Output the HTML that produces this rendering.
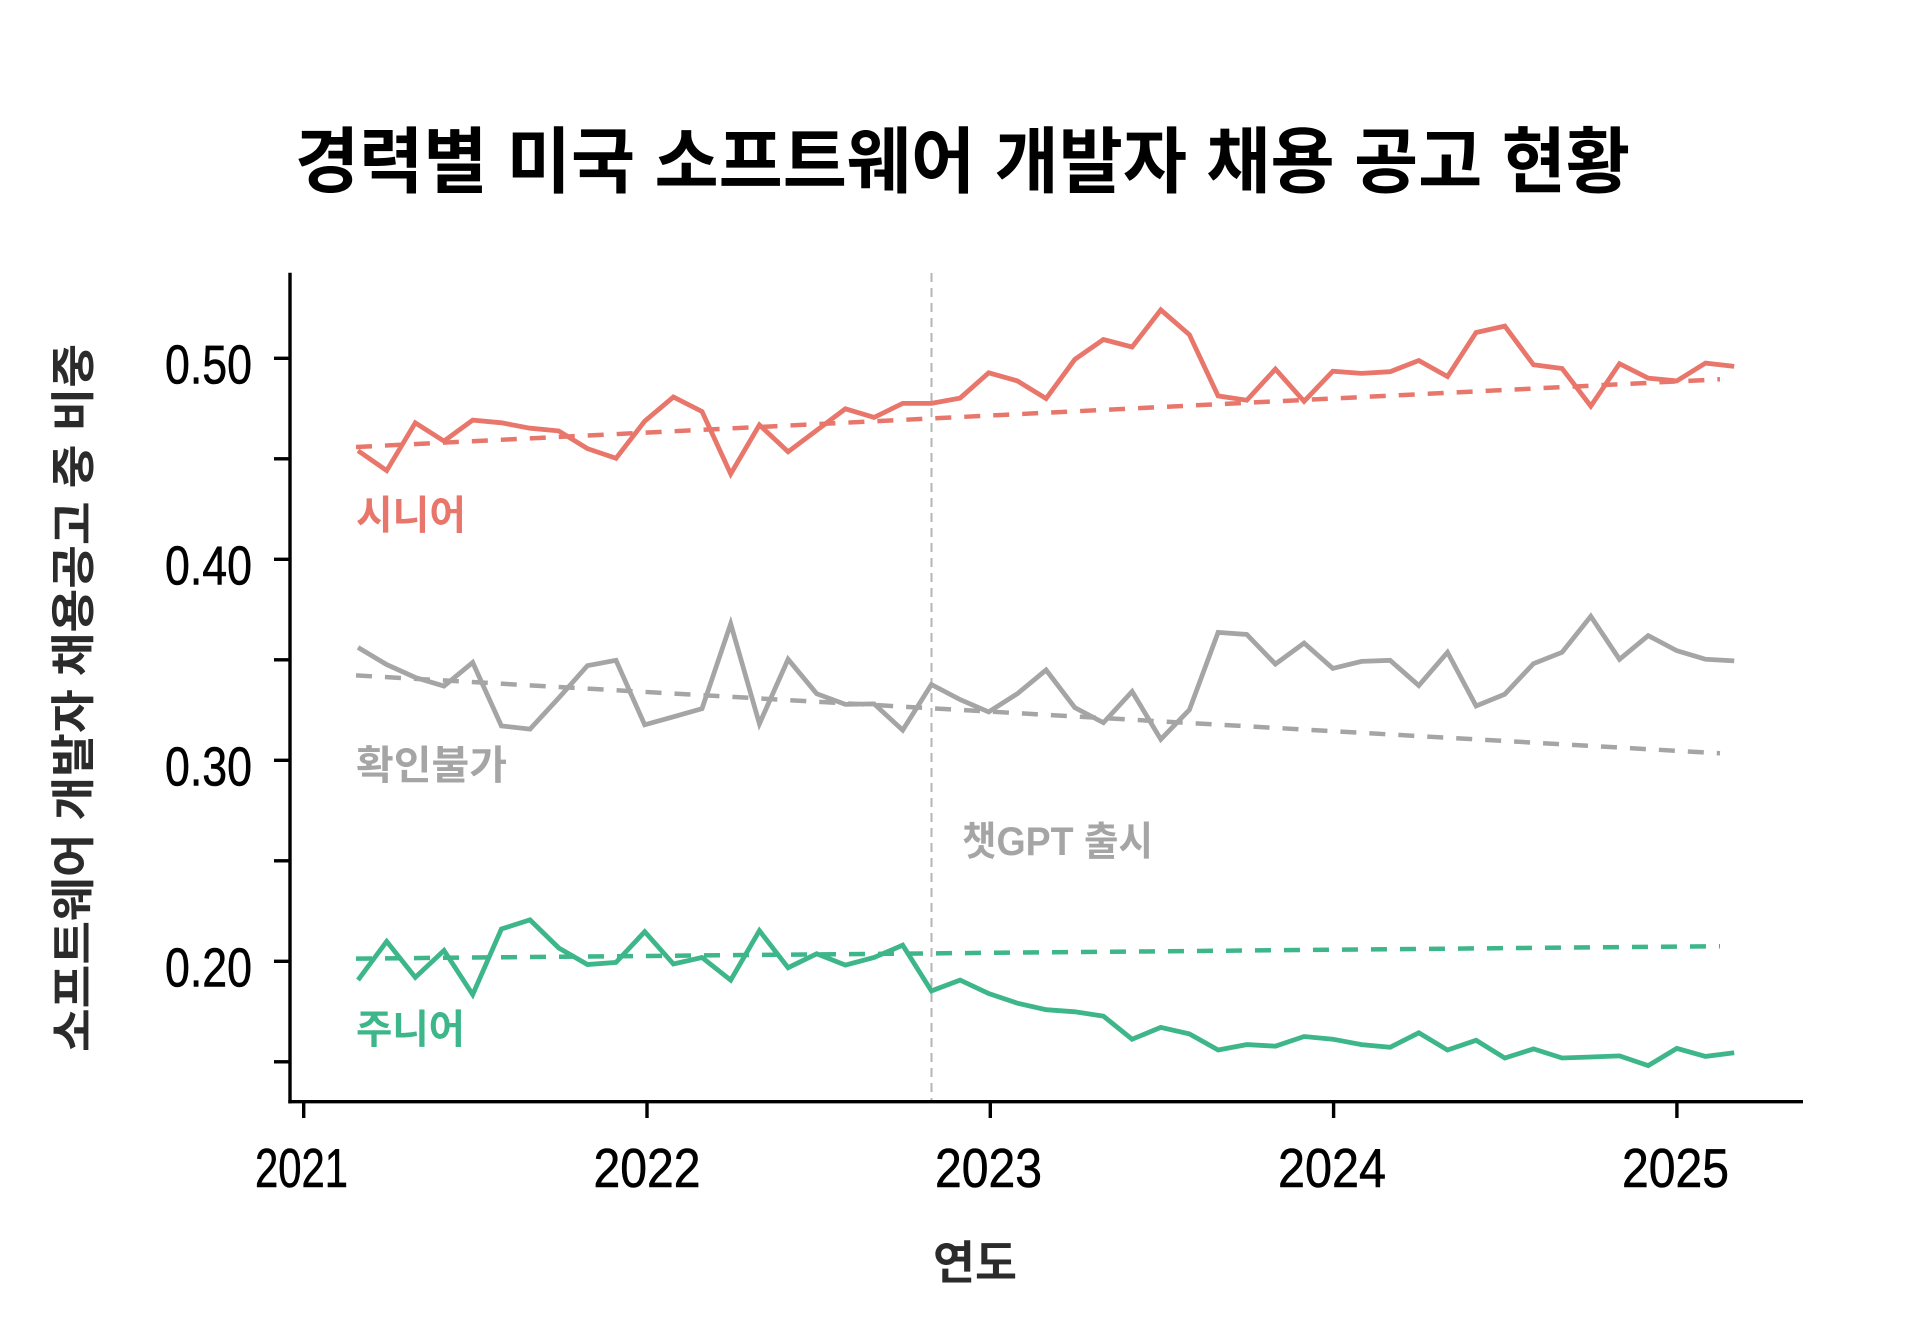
<!DOCTYPE html>
<html>
<head>
<meta charset="utf-8">
<style>
  html, body { margin:0; padding:0; background:#ffffff; }
  body { width:1920px; height:1329px; overflow:hidden; }
  svg { display:block; }
  .kr { font-family: "Liberation Sans", "Noto Sans CJK KR", sans-serif; }
  .num { font-family: "Liberation Sans", sans-serif; }
</style>
</head>
<body>
<svg width="1920" height="1329" viewBox="0 0 1920 1329" xmlns="http://www.w3.org/2000/svg">
  <rect x="0" y="0" width="1920" height="1329" fill="#ffffff"/>

  <!-- Title -->
  <text class="kr" x="295" y="187" font-size="72" font-weight="700" fill="#000000" textLength="1335" lengthAdjust="spacingAndGlyphs">경력별 미국 소프트웨어 개발자 채용 공고 현황</text>

  <!-- ChatGPT vertical line -->
  <line x1="931.5" y1="273" x2="931.5" y2="1100" stroke="#b5b5b5" stroke-width="2" stroke-dasharray="9 6"/>

  <!-- Trend lines -->
  <line x1="356" y1="447.0" x2="1720" y2="379.3" stroke="#E9766B" stroke-width="4.5" stroke-dasharray="16 13"/>
  <line x1="356" y1="675.4" x2="1720" y2="753.3" stroke="#A5A5A5" stroke-width="4.5" stroke-dasharray="16 13"/>
  <line x1="356" y1="958.6" x2="1720" y2="946.2" stroke="#3DB68A" stroke-width="4.5" stroke-dasharray="16 13"/>

  <!-- Series -->
  <polyline fill="none" stroke="#E9766B" stroke-width="4.8" stroke-linejoin="miter" points="358.0,450.7 386.7,470.6 415.3,422.8 444.0,441.1 472.7,420.1 501.4,422.8 530.0,428.2 558.7,430.9 587.4,448.6 616.0,458.3 644.7,421.2 673.4,397.0 702.0,411.5 730.7,473.9 759.4,424.9 788.1,451.8 816.7,430.3 845.4,408.8 874.1,417.4 902.7,403.4 931.4,403.4 960.1,398.1 988.7,372.8 1017.4,380.9 1046.1,398.6 1074.8,359.4 1103.4,339.5 1132.1,347.0 1160.8,309.9 1189.4,334.7 1218.1,395.9 1246.8,400.2 1275.4,369.1 1304.1,401.3 1332.8,371.2 1361.5,373.4 1390.1,371.7 1418.8,360.5 1447.5,376.6 1476.1,332.5 1504.8,326.1 1533.5,364.8 1562.1,368.5 1590.8,406.1 1619.5,363.7 1648.2,378.2 1676.8,380.9 1705.5,363.1 1734.2,366.4"/>
  <polyline fill="none" stroke="#A5A5A5" stroke-width="4.8" points="358.0,647.4 386.7,664.6 415.3,677.5 444.0,686.1 472.7,662.5 501.4,725.9 530.0,729.1 558.7,698.0 587.4,665.7 616.0,660.3 644.7,724.8 673.4,716.8 702.0,708.7 730.7,623.8 759.4,723.8 788.1,659.3 816.7,693.7 845.4,704.4 874.1,703.9 902.7,730.2 931.4,684.5 960.1,699.6 988.7,711.9 1017.4,693.7 1046.1,670.0 1074.8,707.6 1103.4,722.7 1132.1,691.5 1160.8,739.3 1189.4,709.8 1218.1,632.4 1246.8,634.5 1275.4,664.1 1304.1,643.1 1332.8,668.4 1361.5,661.4 1390.1,660.3 1418.8,685.6 1447.5,652.3 1476.1,706.0 1504.8,694.2 1533.5,663.6 1562.1,652.3 1590.8,616.3 1619.5,659.3 1648.2,635.6 1676.8,650.7 1705.5,659.3 1734.2,660.9"/>
  <polyline fill="none" stroke="#3DB68A" stroke-width="4.8" points="358.0,980.1 386.7,941.4 415.3,977.4 444.0,950.5 472.7,994.6 501.4,929.0 530.0,919.9 558.7,947.9 587.4,964.5 616.0,962.4 644.7,931.7 673.4,964.0 702.0,957.5 730.7,980.1 759.4,930.7 788.1,967.7 816.7,953.8 845.4,965.1 874.1,957.5 902.7,945.2 931.4,990.9 960.1,980.1 988.7,993.5 1017.4,1003.2 1046.1,1009.7 1074.8,1011.8 1103.4,1016.1 1132.1,1039.2 1160.8,1027.4 1189.4,1033.9 1218.1,1050.0 1246.8,1044.6 1275.4,1046.2 1304.1,1036.5 1332.8,1039.2 1361.5,1044.6 1390.1,1047.3 1418.8,1032.8 1447.5,1050.0 1476.1,1040.3 1504.8,1058.0 1533.5,1048.9 1562.1,1058.0 1590.8,1057.0 1619.5,1055.9 1648.2,1065.6 1676.8,1048.4 1705.5,1056.4 1734.2,1052.7"/>

  <!-- Series labels -->
  <text class="kr" x="356" y="529" font-size="40" font-weight="700" fill="#E9766B" textLength="110" lengthAdjust="spacingAndGlyphs">시니어</text>
  <text class="kr" x="356" y="779" font-size="40" font-weight="700" fill="#A5A5A5" textLength="151" lengthAdjust="spacingAndGlyphs">확인불가</text>
  <text class="kr" x="356" y="1043" font-size="40" font-weight="700" fill="#3DB68A" textLength="109" lengthAdjust="spacingAndGlyphs">주니어</text>
  <text class="kr" x="962" y="855" font-size="40" font-weight="700" fill="#A5A5A5" textLength="191" lengthAdjust="spacingAndGlyphs">챗GPT 출시</text>

  <!-- Axes spines -->
  <line x1="290" y1="272.7" x2="290" y2="1103.4" stroke="#000" stroke-width="3.4"/>
  <line x1="288.3" y1="1101.7" x2="1803" y2="1101.7" stroke="#000" stroke-width="3.4"/>

  <!-- Y ticks -->
  <g stroke="#000" stroke-width="3.4">
    <line x1="274" y1="358.3" x2="290" y2="358.3"/>
    <line x1="274" y1="458.8" x2="290" y2="458.8"/>
    <line x1="274" y1="559.3" x2="290" y2="559.3"/>
    <line x1="274" y1="659.8" x2="290" y2="659.8"/>
    <line x1="274" y1="760.3" x2="290" y2="760.3"/>
    <line x1="274" y1="860.8" x2="290" y2="860.8"/>
    <line x1="274" y1="961.3" x2="290" y2="961.3"/>
    <line x1="274" y1="1061.8" x2="290" y2="1061.8"/>
  </g>
  <!-- X ticks -->
  <g stroke="#000" stroke-width="3.4">
    <line x1="303.7" y1="1101.7" x2="303.7" y2="1118"/>
    <line x1="647.0" y1="1101.7" x2="647.0" y2="1118"/>
    <line x1="990.3" y1="1101.7" x2="990.3" y2="1118"/>
    <line x1="1333.6" y1="1101.7" x2="1333.6" y2="1118"/>
    <line x1="1676.9" y1="1101.7" x2="1676.9" y2="1118"/>
  </g>

  <!-- Y tick labels -->
  <g class="num" font-size="55" fill="#000" stroke="#000" stroke-width="0.6" text-anchor="end">
    <text x="252" y="383.3" textLength="87" lengthAdjust="spacingAndGlyphs">0.50</text>
    <text x="252" y="584.3" textLength="87" lengthAdjust="spacingAndGlyphs">0.40</text>
    <text x="252" y="785.3" textLength="87" lengthAdjust="spacingAndGlyphs">0.30</text>
    <text x="252" y="986.3" textLength="87" lengthAdjust="spacingAndGlyphs">0.20</text>
  </g>

  <!-- X tick labels -->
  <g class="num" font-size="55" fill="#000" stroke="#000" stroke-width="0.6">
    <text x="255" y="1187" textLength="93" lengthAdjust="spacingAndGlyphs">2021</text>
    <text x="593.5" y="1187" textLength="107" lengthAdjust="spacingAndGlyphs">2022</text>
    <text x="935" y="1187" textLength="107" lengthAdjust="spacingAndGlyphs">2023</text>
    <text x="1278" y="1187" textLength="108" lengthAdjust="spacingAndGlyphs">2024</text>
    <text x="1622" y="1187" textLength="107" lengthAdjust="spacingAndGlyphs">2025</text>
  </g>

  <!-- Axis labels -->
  <text class="kr" x="933" y="1279" font-size="46" font-weight="700" fill="#2b2b2b" textLength="84" lengthAdjust="spacingAndGlyphs">연도</text>
  <text class="kr" transform="translate(89,698) rotate(-90)" x="0" y="0" text-anchor="middle" font-size="45" font-weight="700" fill="#2b2b2b" textLength="708" lengthAdjust="spacingAndGlyphs">소프트웨어 개발자 채용공고 중 비중</text>
</svg>
</body>
</html>
